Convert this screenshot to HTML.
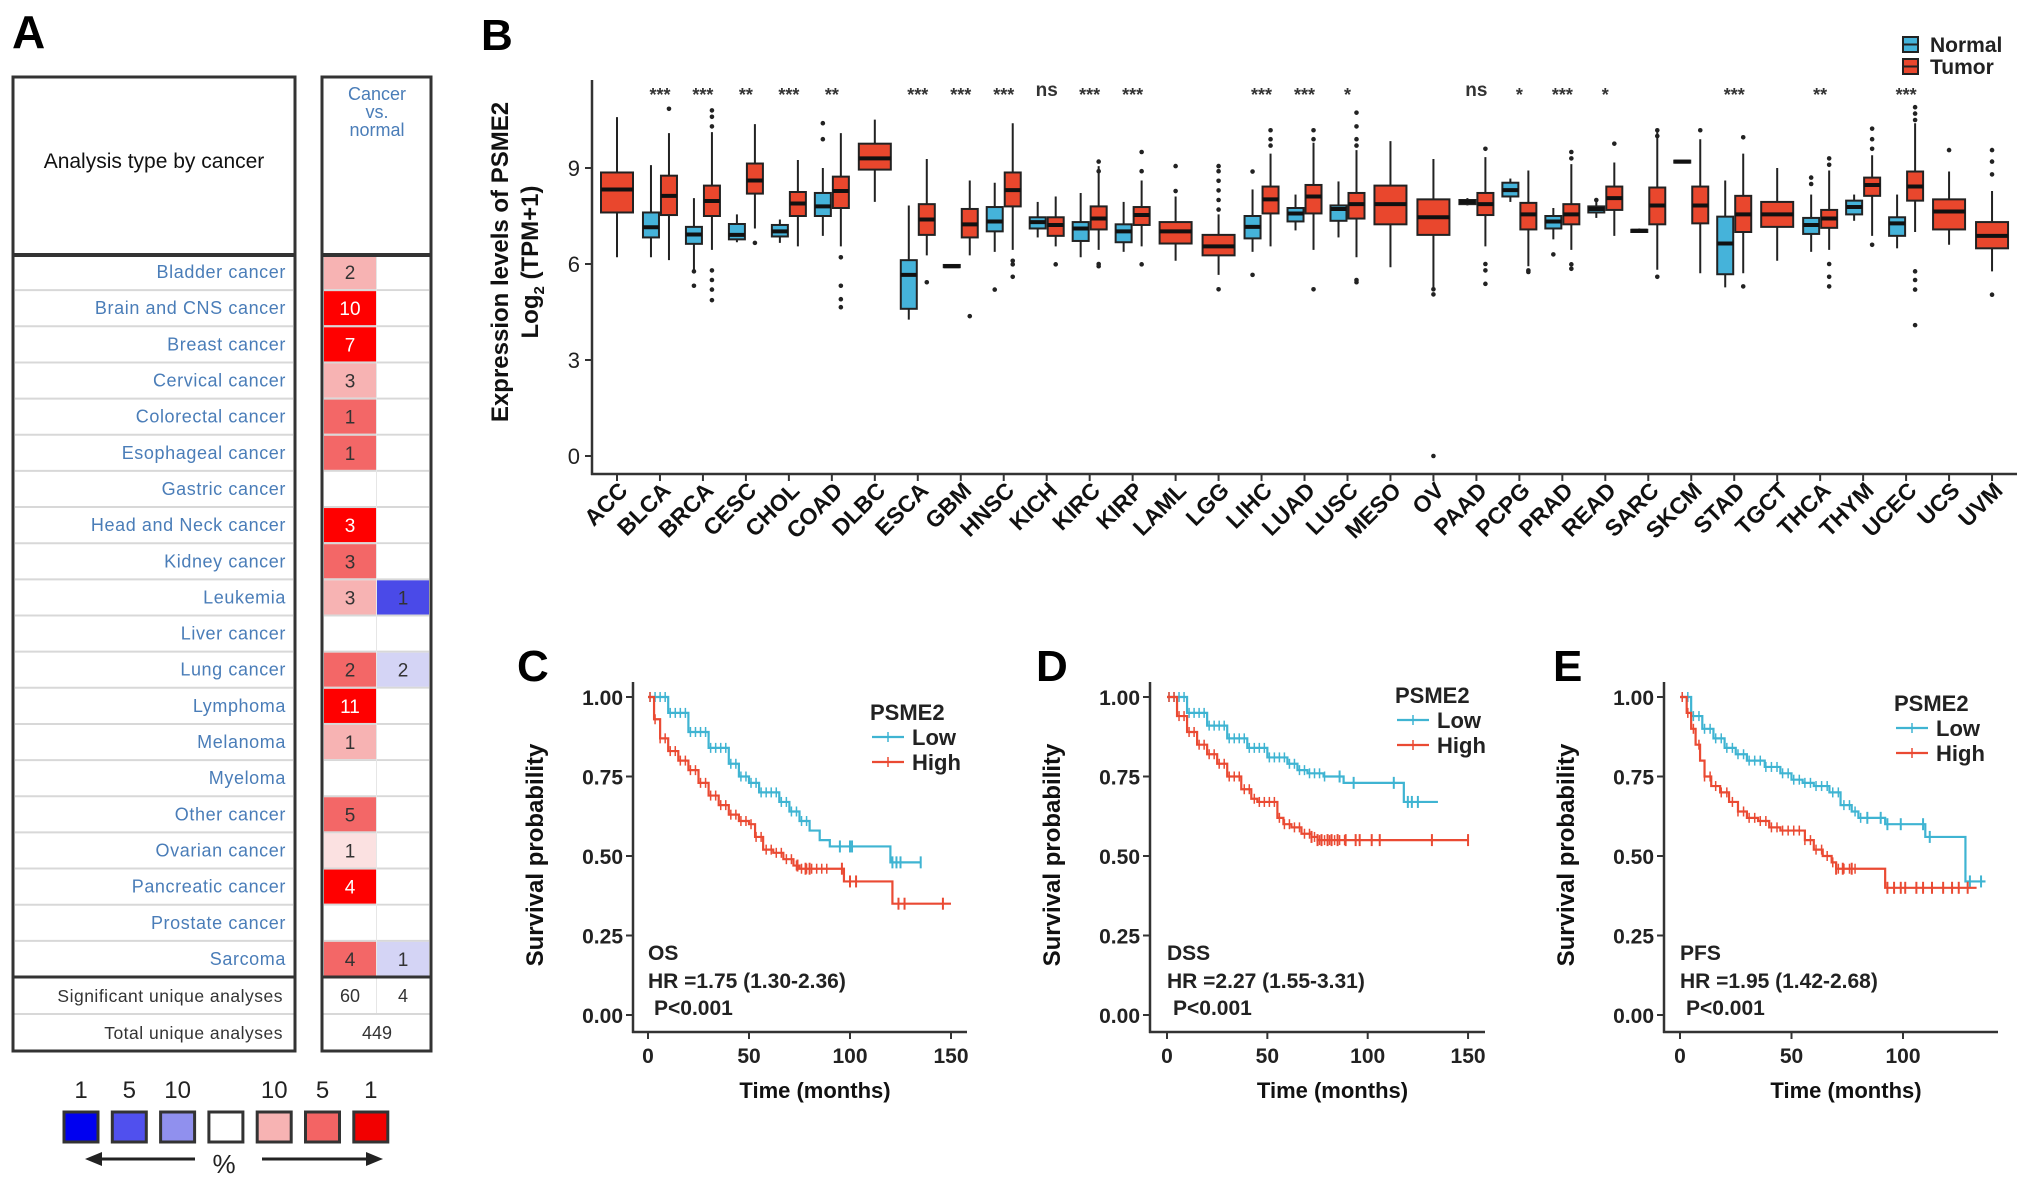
<!DOCTYPE html>
<html><head><meta charset="utf-8">
<style>
html,body{margin:0;padding:0;background:#fff;}
svg{display:block;font-family:"Liberation Sans",Arial,sans-serif;}
</style></head>
<body>
<svg id="fig" width="2031" height="1188" viewBox="0 0 2031 1188" xmlns="http://www.w3.org/2000/svg">
<g id="panelA"></g>
<g id="panelB"></g>
<g id="panelC"></g>
<g id="panelD"></g>
<g id="panelE"></g>
</svg>
<script>
// ---------- Panel A data ----------
const cancerTypes = ["Bladder cancer","Brain and CNS cancer","Breast cancer","Cervical cancer","Colorectal cancer","Esophageal cancer","Gastric cancer","Head and Neck cancer","Kidney cancer","Leukemia","Liver cancer","Lung cancer","Lymphoma","Melanoma","Myeloma","Other cancer","Ovarian cancer","Pancreatic cancer","Prostate cancer","Sarcoma"];
const upCounts = [2,10,7,3,1,1,null,3,3,3,null,2,11,1,null,5,1,4,null,4];
const upShade = [1,3,3,1,2,2,0,3,2,1,0,2,3,1,0,2,0.5,3,0,2];
const downCounts = [null,null,null,null,null,null,null,null,null,1,null,2,null,null,null,null,null,null,null,1];
const downShade = [0,0,0,0,0,0,0,0,0,2,0,1,0,0,0,0,0,0,0,1];
const legendNums = ["1","5","10","","10","5","1"];

// ---------- Panel B data ----------
const bCategories = ["ACC","BLCA","BRCA","CESC","CHOL","COAD","DLBC","ESCA","GBM","HNSC","KICH","KIRC","KIRP","LAML","LGG","LIHC","LUAD","LUSC","MESO","OV","PAAD","PCPG","PRAD","READ","SARC","SKCM","STAD","TGCT","THCA","THYM","UCEC","UCS","UVM"];
// [lowWhisker, q1, median, q3, highWhisker]
const normalStats = [null,[6.21,6.83,7.15,7.61,9.09],[5.77,6.63,6.92,7.16,8.06],[6.68,6.77,6.91,7.25,7.55],[6.66,6.86,7.02,7.22,7.39],[6.88,7.5,7.8,8.22,9.0],null,[4.26,4.6,5.66,6.12,7.83],[5.9,5.9,5.93,5.97,5.99],[6.38,7.02,7.33,7.78,8.54],[6.83,7.11,7.31,7.46,7.94],[6.21,6.72,7.11,7.31,8.22],[6.38,6.68,7.02,7.24,7.94],null,null,[6.38,6.8,7.16,7.5,8.33],[7.05,7.33,7.58,7.75,8.17],[6.83,7.35,7.72,7.83,8.58],null,null,[7.83,7.87,7.94,8.0,8.06],[7.94,8.11,8.31,8.54,8.67],[6.77,7.11,7.33,7.5,7.75],[7.44,7.61,7.72,7.8,8.0],[6.97,7.0,7.04,7.07,7.11],[9.16,9.18,9.2,9.23,9.25],[5.27,5.68,6.64,7.48,8.61],null,[6.38,6.94,7.22,7.44,8.17],[7.35,7.55,7.78,7.98,8.17],[6.49,6.88,7.27,7.46,8.17],null,null];
const tumorStats = [[6.21,7.61,8.33,8.86,10.59],[6.12,7.53,8.13,8.76,10.09],[6.44,7.5,7.97,8.45,10.12],[7.11,8.2,8.61,9.14,10.37],[6.55,7.5,7.89,8.25,9.25],[6.55,7.75,8.28,8.73,10.09],[7.94,8.95,9.3,9.76,10.51],[6.27,6.91,7.39,7.87,9.28],[6.27,6.83,7.24,7.72,8.61],[6.44,7.8,8.31,8.86,10.4],[6.55,6.88,7.22,7.46,8.11],[6.44,7.08,7.42,7.8,9.06],[6.55,7.22,7.53,7.78,8.61],[6.1,6.64,7.02,7.31,8.11],[5.66,6.27,6.55,6.91,7.55],[6.55,7.58,8.02,8.42,9.45],[6.44,7.58,8.11,8.47,9.79],[6.21,7.42,7.87,8.22,9.56],[5.9,7.24,7.87,8.45,9.84],[5.21,6.91,7.46,8.02,9.28],[6.55,7.53,7.87,8.22,9.34],[5.93,7.08,7.55,7.91,8.92],[6.44,7.24,7.55,7.87,9.12],[6.88,7.69,8.06,8.42,9.17],[5.82,7.24,7.83,8.39,10.14],[5.71,7.27,7.83,8.42,9.9],[5.71,7.0,7.55,8.13,9.45],[6.1,7.16,7.55,7.94,9.0],[6.44,7.13,7.42,7.69,8.92],[6.88,8.13,8.47,8.7,9.4],[7.0,7.98,8.42,8.89,10.4],[6.6,7.08,7.64,8.02,8.89],[5.77,6.49,6.88,7.31,8.28]];
const tumorOutliers = [[],[10.85],[4.87,5.2,5.5,5.8,10.3,10.6,10.8],[6.66],[],[4.65,4.9,5.32,6.21],[],[5.43],[4.37],[5.6,5.99,6.1],[5.99],[5.93,6.0,8.9,9.2],[5.99,8.9,9.5],[8.28,9.06],[5.21,7.7,8.0,8.3,8.6,8.9,9.06],[9.7,9.9,10.18],[5.21,9.9,10.18],[5.43,5.5,9.7,9.9,10.3,10.73],[],[5.05,5.21,0.0],[5.38,5.8,6.0,9.6],[5.75,5.8],[5.85,5.99,9.3,9.5],[9.76],[5.6,10.0,10.18],[10.18],[5.3,9.96],[],[5.3,5.6,6.0,9.1,9.3],[6.6,9.6,9.9,10.23],[4.09,5.2,5.5,5.77,10.5,10.7,10.9],[9.56],[5.04,8.8,9.2,9.56]];
const normalOutliers = [[],[],[5.32,5.77],[],[],[9.9,10.4],[],[],[],[5.2],[],[],[],[],[],[8.89,5.66],[],[],[],[],[],[],[6.3],[8.0],[],[],[],[],[8.5,8.7],[],[],[],[]];
const sigLabels = ["","***","***","**","***","**","","***","***","***","ns","***","***","","","***","***","*","","","ns","*","***","*","","","***","","**","","***","",""];
const bYTicks = [0,3,6,9];

// ---------- KM data ----------
const cLowT = [0,10,20,30,40,45,50,55,60,65,70,75,80,85,90,120,135];
const cLowS = [1,0.95,0.89,0.84,0.79,0.75,0.73,0.70,0.70,0.67,0.64,0.61,0.58,0.55,0.53,0.48,0.48];
const cHighT = [0,3,6,10,15,20,25,30,35,40,45,50,53,57,62,67,72,75,93,97,121,150];
const cHighS = [1,0.93,0.87,0.83,0.80,0.77,0.73,0.69,0.66,0.63,0.61,0.60,0.56,0.52,0.51,0.49,0.47,0.46,0.46,0.42,0.35,0.35];
const dLowT = [0,10,20,30,40,50,60,65,70,78,88,118,135];
const dLowS = [1,0.95,0.91,0.87,0.84,0.81,0.79,0.77,0.76,0.75,0.73,0.67,0.67];
const dHighT = [0,5,10,15,20,25,30,37,42,45,51,55,58,62,67,72,75,150];
const dHighS = [1,0.94,0.89,0.85,0.82,0.79,0.75,0.71,0.68,0.67,0.67,0.62,0.60,0.59,0.57,0.56,0.55,0.55];
const eLowT = [0,5,10,15,20,25,30,38,45,50,55,60,67,72,77,80,92,110,128,137];
const eLowS = [1,0.94,0.90,0.87,0.84,0.82,0.80,0.78,0.76,0.74,0.73,0.72,0.70,0.66,0.64,0.62,0.60,0.56,0.42,0.42];
const eHighT = [0,3,5,7,9,11,14,18,22,26,30,35,40,45,53,56,60,64,68,70,90,92,133];
const eHighS = [1,0.95,0.90,0.85,0.80,0.75,0.72,0.70,0.67,0.64,0.62,0.61,0.59,0.58,0.58,0.55,0.52,0.50,0.48,0.46,0.46,0.40,0.40];
const kmYTicks = [0,0.25,0.5,0.75,1];
const cXTicks = [0,50,100,150];
const eXTicks = [0,50,100];
const cLowCens = [95,100,101,121,123,125,135];
const cHighCens = [74,78,80,96,100,103,124,127,146];
const dLowCens = [86,93,113,120,122,125];
const dHighCens = [72,75,77,80,82,85,89,94,96,102,106,132,150];
const eLowCens = [84,90,93,99,109,112,130,135];
const eHighCens = [70,73,77,93,96,99,101,106,109,113,118,122,125,129];

// ---------- helpers ----------
const NS = "http://www.w3.org/2000/svg";
function mk(parent, tag, attrs, text) {
  const e = document.createElementNS(NS, tag);
  for (const k in attrs) e.setAttribute(k, attrs[k]);
  if (text !== undefined) e.textContent = text;
  parent.appendChild(e);
  return e;
}

// ================= PANEL A =================
(function(){
  const g = document.getElementById('panelA');
  const t = mk(g,'text',{x:12,y:48,'font-size':46,'font-weight':'bold',fill:'#000'},'A');
  
  
  const rowTop = 254, rowH = 36.15;
  // row separators
  for (let i=0;i<cancerTypes.length;i++){
    const y = rowTop + i*rowH;
    const lab = mk(g,'text',{x:286,y:y+rowH/2+6,'font-size':18,fill:'#4a7db8','text-anchor':'end','letter-spacing':'0.6'},cancerTypes[i]);
    
    
    if (i>0){ mk(g,'line',{x1:15,x2:293,y1:y,y2:y,stroke:'#d8d8d8','stroke-width':2}); mk(g,'line',{x1:324,x2:429,y1:y,y2:y,stroke:'#d8d8d8','stroke-width':2}); }
    const upCols = ['#ffffff','#f7b3b3','#f36767','#ff0000'];
    const sUp = upShade[i];
    let upFill = sUp===0.5 ? '#fbe1e1' : upCols[sUp];
    const c1 = mk(g,'rect',{x:324,y:y+1,width:52,height:rowH-2,fill:upFill});
    
    
    if (upCounts[i]!==null){
      const txt = mk(g,'text',{x:350,y:y+rowH/2+7,'font-size':19,'text-anchor':'middle',fill: sUp===3?'#fff':'#333'},String(upCounts[i]));
      
      
    }
    const dnCols = ['#ffffff','#d4d4f5','#4a4ae8'];
    const c2 = mk(g,'rect',{x:377,y:y+1,width:52,height:rowH-2,fill:dnCols[downShade[i]]});
    
    
    if (downCounts[i]!==null){
      const txt = mk(g,'text',{x:403,y:y+rowH/2+7,'font-size':19,'text-anchor':'middle',fill:'#333'},String(downCounts[i]));
      
      
    }
  }
  mk(g,'line',{x1:376.5,x2:376.5,y1:254,y2:1014,stroke:'#e6e6e6','stroke-width':1});
  const yS = rowTop + 20*rowH;
  mk(g,'line',{x1:13,x2:295,y1:1014,y2:1014,stroke:'#d8d8d8','stroke-width':2});
  mk(g,'line',{x1:322,x2:431,y1:1014,y2:1014,stroke:'#d8d8d8','stroke-width':2});
  // boxes
  mk(g,'rect',{x:13,y:77,width:282,height:974,fill:'none',stroke:'#333','stroke-width':3});
  mk(g,'rect',{x:322,y:77,width:109,height:974,fill:'none',stroke:'#333','stroke-width':3});
  mk(g,'line',{x1:13,x2:295,y1:255,y2:255,stroke:'#333','stroke-width':4});
  mk(g,'line',{x1:322,x2:431,y1:255,y2:255,stroke:'#333','stroke-width':4});
  mk(g,'line',{x1:13,x2:295,y1:yS,y2:yS,stroke:'#333','stroke-width':3});
  mk(g,'line',{x1:322,x2:431,y1:yS,y2:yS,stroke:'#333','stroke-width':3});
  const h = mk(g,'text',{x:154,y:168,'font-size':21,'text-anchor':'middle',fill:'#111'},'Analysis type by cancer');
  
  
  const cvn = ['Cancer','vs.','normal'];
  for (let i=0;i<3;i++){
    const e = mk(g,'text',{x:377,y:100+i*18,'font-size':18,'text-anchor':'middle',fill:'#4a7db8'},cvn[i]);
    
    
  }
  const s1 = mk(g,'text',{x:283,y:1002,'font-size':17.5,'text-anchor':'end',fill:'#333','letter-spacing':'0.5'},'Significant unique analyses');
  
  
  const s2 = mk(g,'text',{x:283,y:1039,'font-size':17.5,'text-anchor':'end',fill:'#333','letter-spacing':'0.5'},'Total unique analyses');
  
  
  const v1 = mk(g,'text',{x:350,y:1002,'font-size':18,'text-anchor':'middle',fill:'#333'},'60');
  
  
  const v2 = mk(g,'text',{x:403,y:1002,'font-size':18,'text-anchor':'middle',fill:'#333'},'4');
  
  
  const v3 = mk(g,'text',{x:377,y:1039,'font-size':18,'text-anchor':'middle',fill:'#333'},'449');
  
  
  // color legend
  const legCols = ['#0000f0','#5050ee','#9090ee','#ffffff','#f7b3b3','#f36464','#f20000'];
  for (let i=0;i<7;i++){
    const x = 64 + i*48.3;
    const r = mk(g,'rect',{x:x,y:1112,width:34,height:30,fill:legCols[i],stroke:'#333','stroke-width':3});
    
    
    if (legendNums[i]){
      const n = mk(g,'text',{x:x+17,y:1098,'font-size':24,'text-anchor':'middle',fill:'#222'},legendNums[i]);
      
      
    }
  }
  mk(g,'line',{x1:98,x2:195,y1:1159,y2:1159,stroke:'#222','stroke-width':3});
  mk(g,'polygon',{points:'85,1159 102,1152 102,1166',fill:'#222'});
  mk(g,'line',{x1:262,x2:368,y1:1159,y2:1159,stroke:'#222','stroke-width':3});
  mk(g,'polygon',{points:'383,1159 366,1152 366,1166',fill:'#222'});
  const pc = mk(g,'text',{x:224,y:1173,'font-size':26,'text-anchor':'middle',fill:'#222'},'%');
  
  
})();

// ================= PANEL B =================
(function(){
  const g = document.getElementById('panelB');
  const x0 = 617, dx = 42.97;
  const xPos = i => x0 + i*dx;
  const yPos = v => 456 - 32*v;
  const NCOL = '#45b3da', TCOL = '#e9472d', OUT = '#222';
  const lb = mk(g,'text',{x:481,y:50,'font-size':44,'font-weight':'bold',fill:'#000'},'B');
  
  
  // axes
  mk(g,'line',{x1:592,x2:592,y1:80,y2:475,stroke:'#333','stroke-width':2.5});
  mk(g,'line',{x1:591,x2:2017,y1:474,y2:474,stroke:'#333','stroke-width':2.5});
  bYTicks.forEach(v=>{
    mk(g,'line',{x1:585,x2:592,y1:yPos(v),y2:yPos(v),stroke:'#333','stroke-width':2});
    const t = mk(g,'text',{x:580,y:yPos(v)+8,'font-size':22,'text-anchor':'end',fill:'#222'},String(v));
    
    
  });
  const yt = mk(g,'text',{transform:'translate(508,262) rotate(-90)','font-size':24,'font-weight':'bold','text-anchor':'middle',fill:'#111'},'Expression levels of PSME2');
  
  
  const yt2 = mk(g,'text',{transform:'translate(538,262) rotate(-90)','font-size':24,'font-weight':'bold','text-anchor':'middle',fill:'#111'});
  
  
  mk(yt2,'tspan',{},'Log');
  mk(yt2,'tspan',{'font-size':15,dy:6},'2');
  mk(yt2,'tspan',{dy:-6},' (TPM+1)');

  function drawBox(cx, w, st, col, outs, name){
    const bg = mk(g,'g',{});
    
    
    mk(bg,'line',{x1:cx,x2:cx,y1:yPos(st[4]),y2:yPos(st[0]),stroke:'#222','stroke-width':2});
    mk(bg,'rect',{x:cx-w/2,y:yPos(st[3]),width:w,height:Math.max(2,yPos(st[1])-yPos(st[3])),fill:col,stroke:'#222','stroke-width':2});
    mk(bg,'line',{x1:cx-w/2,x2:cx+w/2,y1:yPos(st[2]),y2:yPos(st[2]),stroke:'#111','stroke-width':4});
    outs.forEach(v=>{ mk(bg,'circle',{cx:cx,cy:yPos(v),r:2.3,fill:OUT}); });
  }
  bCategories.forEach((c,i)=>{
    const cx = xPos(i);
    mk(g,'line',{x1:cx,x2:cx,y1:474,y2:481,stroke:'#333','stroke-width':2});
    const lab = mk(g,'text',{transform:`translate(${cx+12},${492}) rotate(-45)`,'font-size':23,'font-weight':'bold','text-anchor':'end',fill:'#111'},c);
    
    
    if (normalStats[i]){
      drawBox(cx-9, 16, normalStats[i], NCOL, normalOutliers[i], 'normal-box');
      drawBox(cx+9, 16, tumorStats[i], TCOL, tumorOutliers[i], 'tumor-box');
    } else {
      drawBox(cx, 32, tumorStats[i], TCOL, tumorOutliers[i], 'tumor-box');
    }
    if (sigLabels[i]){
      const isNs = sigLabels[i]==='ns';
      const s = mk(g,'text',{x:cx,y:isNs?96:101,'font-size':isNs?19:18,'font-weight':'bold','text-anchor':'middle',fill:'#333'},sigLabels[i]);
      
      
    }
  });
  // legend
  const leg = mk(g,'g',{});
  
  
  mk(leg,'rect',{x:1903,y:37,width:15,height:15,fill:NCOL,stroke:'#222','stroke-width':2});
  mk(leg,'line',{x1:1903,x2:1918,y1:44.5,y2:44.5,stroke:'#222','stroke-width':2});
  mk(leg,'rect',{x:1903,y:59,width:15,height:15,fill:TCOL,stroke:'#222','stroke-width':2});
  mk(leg,'line',{x1:1903,x2:1918,y1:66.5,y2:66.5,stroke:'#222','stroke-width':2});
  const ln = mk(leg,'text',{x:1930,y:52,'font-size':21,'font-weight':'bold',fill:'#222'},'Normal');
  
  
  const lt = mk(leg,'text',{x:1930,y:74,'font-size':21,'font-weight':'bold',fill:'#222'},'Tumor');
  
  
})();

// ================= KM PANELS =================
function drawKM(gid, o){
  const g = document.getElementById(gid);
  const xS = t => o.x0 + t*o.pxPerMonth;
  const yS = s => 1015 - s*318;
  const LOW = '#3fb4d2', HIGH = '#ea4a33';
  const lb = mk(g,'text',{x:o.labelX,y:681,'font-size':44,'font-weight':'bold',fill:'#000'},o.letter);
  
  
  mk(g,'line',{x1:o.axX,x2:o.axX,y1:682,y2:1033,stroke:'#333','stroke-width':2.5});
  mk(g,'line',{x1:o.axX-1,x2:o.axEnd,y1:1032,y2:1032,stroke:'#333','stroke-width':2.5});
  kmYTicks.forEach(v=>{
    mk(g,'line',{x1:o.axX-7,x2:o.axX,y1:yS(v),y2:yS(v),stroke:'#333','stroke-width':2});
    const t = mk(g,'text',{x:o.axX-10,y:yS(v)+8,'font-size':21,'font-weight':'bold','text-anchor':'end',fill:'#222'},v.toFixed(2));
    
    
  });
  o.xTicks.forEach(v=>{
    mk(g,'line',{x1:xS(v),x2:xS(v),y1:1032,y2:1039,stroke:'#333','stroke-width':2});
    const t = mk(g,'text',{x:xS(v),y:1063,'font-size':21,'font-weight':'bold','text-anchor':'middle',fill:'#222'},String(v));
    
    
  });
  const yt = mk(g,'text',{transform:`translate(${o.axX-90},855) rotate(-90)`,'font-size':24,'font-weight':'bold','text-anchor':'middle',fill:'#111'},'Survival probability');
  
  
  const xt = mk(g,'text',{x:o.axX+(o.axEnd-o.axX)/2+15,y:1098,'font-size':22,'font-weight':'bold','text-anchor':'middle',fill:'#111'},'Time (months)');
  
  
  function curve(T,S,cens,col,name){
    let d = `M${xS(T[0])},${yS(S[0])}`;
    for (let i=1;i<T.length;i++){ d += ` H${xS(T[i])} V${yS(S[i])}`; }
    const p = mk(g,'path',{d:d,fill:'none',stroke:col,'stroke-width':2.2});
    
    
    function survAt(t){ let s=S[0]; for(let i=0;i<T.length;i++){ if(T[i]<=t) s=S[i]; } return s; }
    // early censor marks (dense)
    for (let t=1;t<T[T.length-1]*0.6;t+=2.5){
      const x=xS(t), y=yS(survAt(t));
      mk(g,'line',{x1:x,x2:x,y1:y-5,y2:y+5,stroke:col,'stroke-width':1.5});
    }
    cens.forEach(t=>{ const x=xS(t), y=yS(survAt(t)); mk(g,'line',{x1:x,x2:x,y1:y-6,y2:y+6,stroke:col,'stroke-width':2}); });
  }
  curve(o.lowT,o.lowS,o.lowC,LOW,'low-expression-curve');
  curve(o.highT,o.highS,o.highC,HIGH,'high-expression-curve');
  // legend
  const lg = mk(g,'g',{});
  
  
  const lt = mk(lg,'text',{x:o.legX,y:o.legY,'font-size':22,'font-weight':'bold',fill:'#222'},'PSME2');
  
  
  mk(lg,'line',{x1:o.legX+2,x2:o.legX+34,y1:o.legY+17,y2:o.legY+17,stroke:LOW,'stroke-width':2.2});
  mk(lg,'line',{x1:o.legX+18,x2:o.legX+18,y1:o.legY+12,y2:o.legY+22,stroke:LOW,'stroke-width':1.5});
  const l1 = mk(lg,'text',{x:o.legX+42,y:o.legY+25,'font-size':22,'font-weight':'bold',fill:'#222'},'Low');
  
  
  mk(lg,'line',{x1:o.legX+2,x2:o.legX+34,y1:o.legY+42,y2:o.legY+42,stroke:HIGH,'stroke-width':2.2});
  mk(lg,'line',{x1:o.legX+18,x2:o.legX+18,y1:o.legY+37,y2:o.legY+47,stroke:HIGH,'stroke-width':1.5});
  const l2 = mk(lg,'text',{x:o.legX+42,y:o.legY+50,'font-size':22,'font-weight':'bold',fill:'#222'},'High');
  
  
  const a1 = mk(g,'text',{x:o.x0,y:960,'font-size':21,'font-weight':'bold',fill:'#222'},o.type);
  
  
  const a2 = mk(g,'text',{x:o.x0,y:988,'font-size':21,'font-weight':'bold',fill:'#222'},o.hr);
  
  
  const a3 = mk(g,'text',{x:o.x0+6,y:1015,'font-size':21,'font-weight':'bold',fill:'#222'},'P<0.001');
  
  
}
drawKM('panelC',{letter:'C',labelX:517,axX:633,axEnd:967,x0:648,pxPerMonth:2.02,xTicks:cXTicks,lowT:cLowT,lowS:cLowS,highT:cHighT,highS:cHighS,lowC:cLowCens,highC:cHighCens,legX:870,legY:720,type:'OS',hr:'HR =1.75 (1.30-2.36)'});
drawKM('panelD',{letter:'D',labelX:1036,axX:1150,axEnd:1485,x0:1167,pxPerMonth:2.007,xTicks:cXTicks,lowT:dLowT,lowS:dLowS,highT:dHighT,highS:dHighS,lowC:dLowCens,highC:dHighCens,legX:1395,legY:703,type:'DSS',hr:'HR =2.27 (1.55-3.31)'});
drawKM('panelE',{letter:'E',labelX:1553,axX:1664,axEnd:1998,x0:1680,pxPerMonth:2.23,xTicks:eXTicks,lowT:eLowT,lowS:eLowS,highT:eHighT,highS:eHighS,lowC:eLowCens,highC:eHighCens,legX:1894,legY:711,type:'PFS',hr:'HR =1.95 (1.42-2.68)'});
</script>
</body></html>
